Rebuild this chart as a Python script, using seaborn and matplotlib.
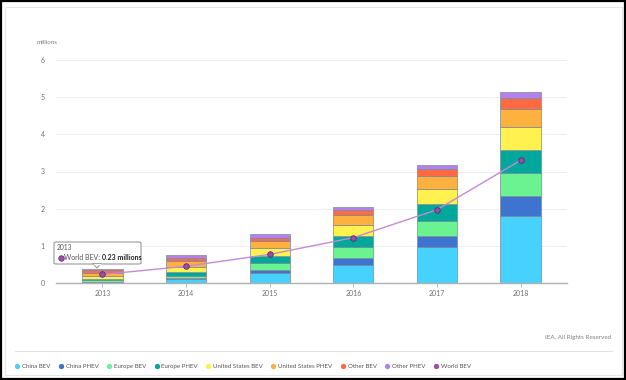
import matplotlib
matplotlib.use("Agg")
import matplotlib.pyplot as plt
from matplotlib.patches import FancyBboxPatch, Rectangle, Polygon
from matplotlib.lines import Line2D
import seaborn as sns
import pandas as pd

years = [2013, 2014, 2015, 2016, 2017, 2018]
series = ["China BEV", "China PHEV", "Europe BEV", "Europe PHEV",
          "United States BEV", "United States PHEV", "Other BEV", "Other PHEV"]
china_bev = [0.02, 0.10, 0.27, 0.49, 0.97, 1.80]
china_phev = [0.01, 0.03, 0.08, 0.18, 0.30, 0.53]
europe_bev = [0.04, 0.07, 0.20, 0.30, 0.40, 0.63]
europe_phev = [0.04, 0.10, 0.18, 0.30, 0.45, 0.62]
us_bev = [0.07, 0.14, 0.21, 0.29, 0.40, 0.63]
us_phev = [0.09, 0.14, 0.19, 0.27, 0.36, 0.47]
other_bev = [0.07, 0.08, 0.09, 0.13, 0.18, 0.29]
other_phev = [0.04, 0.08, 0.09, 0.08, 0.11, 0.17]
world_bev = [0.23, 0.45, 0.77, 1.22, 1.97, 3.30]
y_ticks = [0, 1, 2, 3, 4, 5, 6]

colors = ["#46d1ff", "#3d74cf", "#6cf391", "#00a89c",
          "#fff150", "#ffb13f", "#ff6a43", "#b181ee"]
world_color = "#c48ad6"

values = [china_bev, china_phev, europe_bev, europe_phev,
          us_bev, us_phev, other_bev, other_phev]
rows = []
for name, vals in zip(series, values):
    for yr, v in zip(years, vals):
        rows.append({"year": yr, "series": name, "value": v})
df = pd.DataFrame(rows)

sns.set_theme(style="white")
plt.rcParams["font.family"] = ["Lato", "DejaVu Sans"]

fig = plt.figure(figsize=(6.26, 3.80), dpi=100)
ax = fig.add_axes([56 / 626, 1 - 283 / 380, (567 - 56) / 626, (283 - 60) / 380])

sns.histplot(data=df, x="year", weights="value", hue="series",
             hue_order=series[::-1], palette=dict(zip(series, colors)),
             multiple="stack", discrete=True, shrink=0.48, alpha=1,
             edgecolor="#7d8a9a", linewidth=0.5, legend=False, ax=ax)

sns.lineplot(x=years, y=world_bev, color=world_color, linewidth=1.0,
             marker="o", markersize=4, markerfacecolor="#9b4fa8",
             markeredgecolor="#5b2a6b", markeredgewidth=0.6, ax=ax)

ax.set_xlim(2012.444, 2018.556)
ax.set_ylim(0, 6)
ax.set_yticks(y_ticks)
ax.set_yticklabels([str(t) for t in y_ticks])
ax.set_xticks(years)
ax.set_xticklabels([str(y) for y in years])
ax.set_xlabel("")
ax.set_ylabel("")
ax.grid(axis="y", color="#eeeeee", linewidth=0.7)
ax.set_axisbelow(True)
for s in ["top", "right", "left"]:
    ax.spines[s].set_visible(False)
ax.spines["bottom"].set_color("#b0b0b0")
ax.spines["bottom"].set_linewidth(1.0)
ax.tick_params(axis="y", length=0, labelsize=5, labelcolor="#707070", pad=8)
ax.tick_params(axis="x", length=3, width=0.6, color="#b0b0b0", labelsize=5,
               labelcolor="#707070", pad=2, bottom=True)

fig.text(47 / 626, 1 - 42 / 380, "millions", fontsize=4.5, color="#808080",
         ha="center", va="center")

# tooltip
tx0, tx1, ty0, ty1 = 54, 141, 242, 264
box = FancyBboxPatch((tx0 / 626, 1 - ty1 / 380), (tx1 - tx0) / 626, (ty1 - ty0) / 380,
                     boxstyle="round,pad=0,rounding_size=0.003",
                     transform=fig.transFigure, facecolor="white",
                     edgecolor="#8a8a8a", linewidth=0.7, zorder=10)
fig.add_artist(box)
tri = Polygon([(93 / 626, 1 - 263.6 / 380), (101 / 626, 1 - 263.6 / 380),
               (97 / 626, 1 - 268 / 380)], closed=True, transform=fig.transFigure,
              facecolor="white", edgecolor="#8a8a8a", linewidth=0.7, zorder=10)
fig.add_artist(tri)
fig.add_artist(Line2D([93.6 / 626, 100.4 / 626], [1 - 263.6 / 380, 1 - 263.6 / 380],
                      transform=fig.transFigure, color="white", linewidth=1.0, zorder=11))
fig.text(57 / 626, 1 - 247.5 / 380, "2013", fontsize=4.8, color="#555555",
         ha="left", va="center", zorder=12)
fig.add_artist(Line2D([60.5 / 626], [1 - 258 / 380], marker="o", markersize=4,
                      markerfacecolor="#9b4fa8", markeredgecolor="#5b2a6b",
                      markeredgewidth=0.5, linestyle="none",
                      transform=fig.transFigure, zorder=12))
t1 = fig.text(64.5 / 626, 1 - 258 / 380, "World BEV: ", fontsize=5, color="#555555",
              ha="left", va="center", zorder=12)
fig.canvas.draw()
bb = t1.get_window_extent()
fig.text(bb.x1 / fig.bbox.width, 1 - 258 / 380, "0.23 millions", fontsize=5,
         color="#222222", fontweight="bold", ha="left", va="center", zorder=12)

# credits and separator
fig.text(611 / 626, 1 - 337 / 380, "IEA. All Rights Reserved", fontsize=4.5,
         color="#808080", ha="right", va="center")
fig.add_artist(Line2D([15 / 626, 612 / 626], [1 - 351 / 380, 1 - 351 / 380],
                      transform=fig.transFigure, color="#e2e2e2", linewidth=0.8))

# legend
handles = [Line2D([], [], marker="o", linestyle="none", markersize=2.8,
                  markerfacecolor=c, markeredgecolor=c) for c in colors]
handles.append(Line2D([], [], marker="o", linestyle="none", markersize=2.8,
                      markerfacecolor="#9b4fa8", markeredgecolor="#9b4fa8"))
labels = series + ["World BEV"]
fig.legend(handles, labels, loc="center left", bbox_to_anchor=(0.015, 1 - 366 / 380),
           ncol=9, frameon=False, fontsize=4.4, handletextpad=0.4,
           columnspacing=1.3, handlelength=0.8, labelcolor="#555555")

# frames
fig.add_artist(Rectangle((5 / 626, 5 / 380), 617 / 626, 368 / 380, transform=fig.transFigure,
                         fill=False, edgecolor="#e6e6e6", linewidth=0.8))
fig.add_artist(Rectangle((0.002, 0.003), 0.996, 0.994, transform=fig.transFigure,
                         fill=False, edgecolor="black", linewidth=1.6))

fig.savefig("out.png", dpi=100)
